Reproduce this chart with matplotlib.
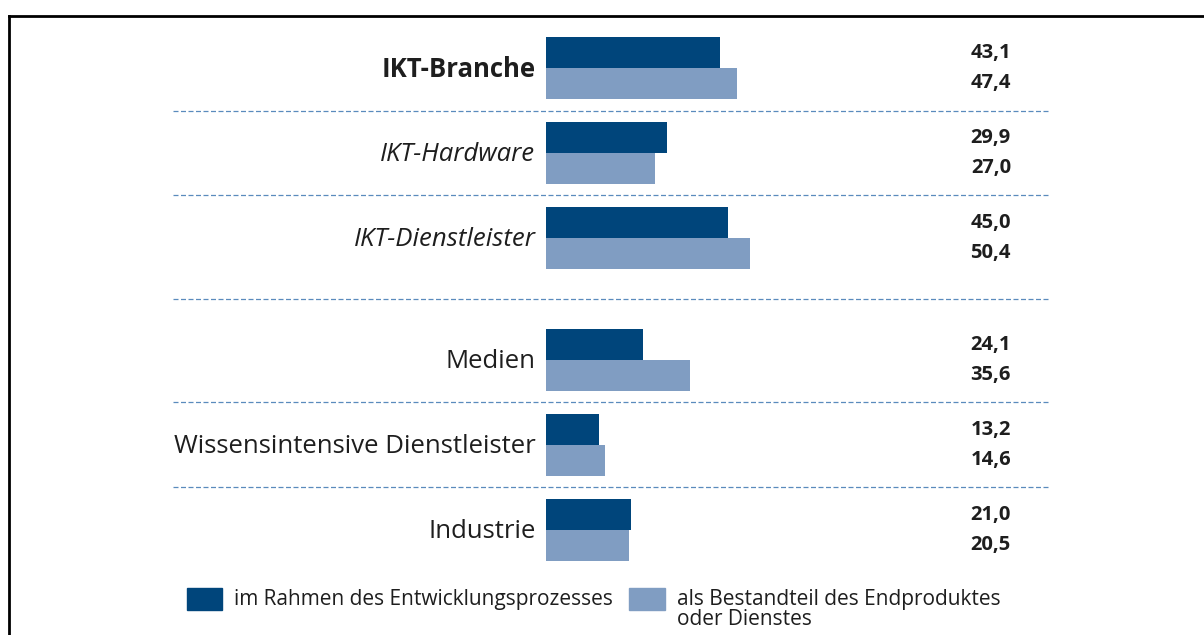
import matplotlib
matplotlib.use("Agg")
import matplotlib.pyplot as plt
from matplotlib.lines import Line2D
from matplotlib.patches import Rectangle

plt.rcParams["font.family"] = ["Open Sans", "DejaVu Sans"]

# Anteil der Unternehmen (in %)
categories = ["IKT-Branche", "IKT-Hardware", "IKT-Dienstleister",
              "Medien", "Wissensintensive Dienstleister", "Industrie"]
entwicklung = [43.1, 29.9, 45.0, 24.1, 13.2, 21.0]
endprodukt = [47.4, 27.0, 50.4, 35.6, 14.6, 20.5]
series_labels = ["im Rahmen des Entwicklungsprozesses",
                 "als Bestandteil des Endproduktes\noder Dienstes"]

label_styles = [("bold", "normal"), ("normal", "italic"), ("normal", "italic"),
                ("normal", "normal"), ("normal", "normal"), ("normal", "normal")]

DARK = "#00457b"
LIGHT = "#809dc2"
SEP = "#5a8bbd"
TEXT = "#1e1e1e"

W, H = 1204, 635
fig = plt.figure(figsize=(W / 100, H / 100), dpi=100)
fig.patch.set_facecolor("white")

# axes spanning the whole canvas; x: 0 at the bar baseline, ~4.04 px per %
ax = fig.add_axes([0, 0, 1, 1])
ax.set_xlim(-546 / 4.04, (W - 546) / 4.04)
ax.set_ylim((H - 68) / 85, -68 / 85)
ax.axis("off")

# group centres, extra space between the ICT block and the comparison block
pos = [0, 1, 2, 3.435, 4.435, 5.435]
bar_h = 0.36

for y, cat, v1, v2, (wt, st) in zip(pos, categories, entwicklung, endprodukt,
                                    label_styles):
    ax.barh(y - bar_h / 2, v1, height=bar_h, color=DARK, edgecolor="none")
    ax.barh(y + bar_h / 2, v2, height=bar_h, color=LIGHT, edgecolor="none")
    ax.text(-2.6, y + 0.02, cat, ha="right", va="center", fontsize=18.5,
            fontweight=wt, fontstyle=st, color=TEXT)
    for yy, v in ((y - bar_h / 2, v1), (y + bar_h / 2, v2)):
        ax.text(115.1, yy, f"{v:.1f}".replace(".", ","), ha="right",
                va="center", fontsize=14.5, fontweight="bold", color=TEXT)

# dashed separators between groups
for a, b in zip(pos[:-1], pos[1:]):
    ax.plot([-92.3, 124.3], [(a + b) / 2] * 2, color=SEP, lw=0.9,
            ls=(0, (4, 2)))

# frame (top and left edge)
fig.add_artist(Line2D([9 / W, 1.0], [1 - 16 / H] * 2, color="black", lw=2))
fig.add_artist(Line2D([9 / W] * 2, [0.0, 1 - 16 / H], color="black", lw=2))

# legend
def px(x, y):
    return x / W, 1 - y / H

for (x0, x1), col, lab in zip([(187, 222), (629, 665)], [DARK, LIGHT],
                              series_labels):
    fig.add_artist(Rectangle(px(x0, 610), (x1 - x0) / W, 22 / H,
                             transform=fig.transFigure, color=col))
    tx, ty = px(x1 + 12, 589)
    fig.text(tx, ty, lab, ha="left", va="top", fontsize=15, color=TEXT,
             linespacing=0.92)

fig.savefig("out.png", dpi=100, facecolor="white")
